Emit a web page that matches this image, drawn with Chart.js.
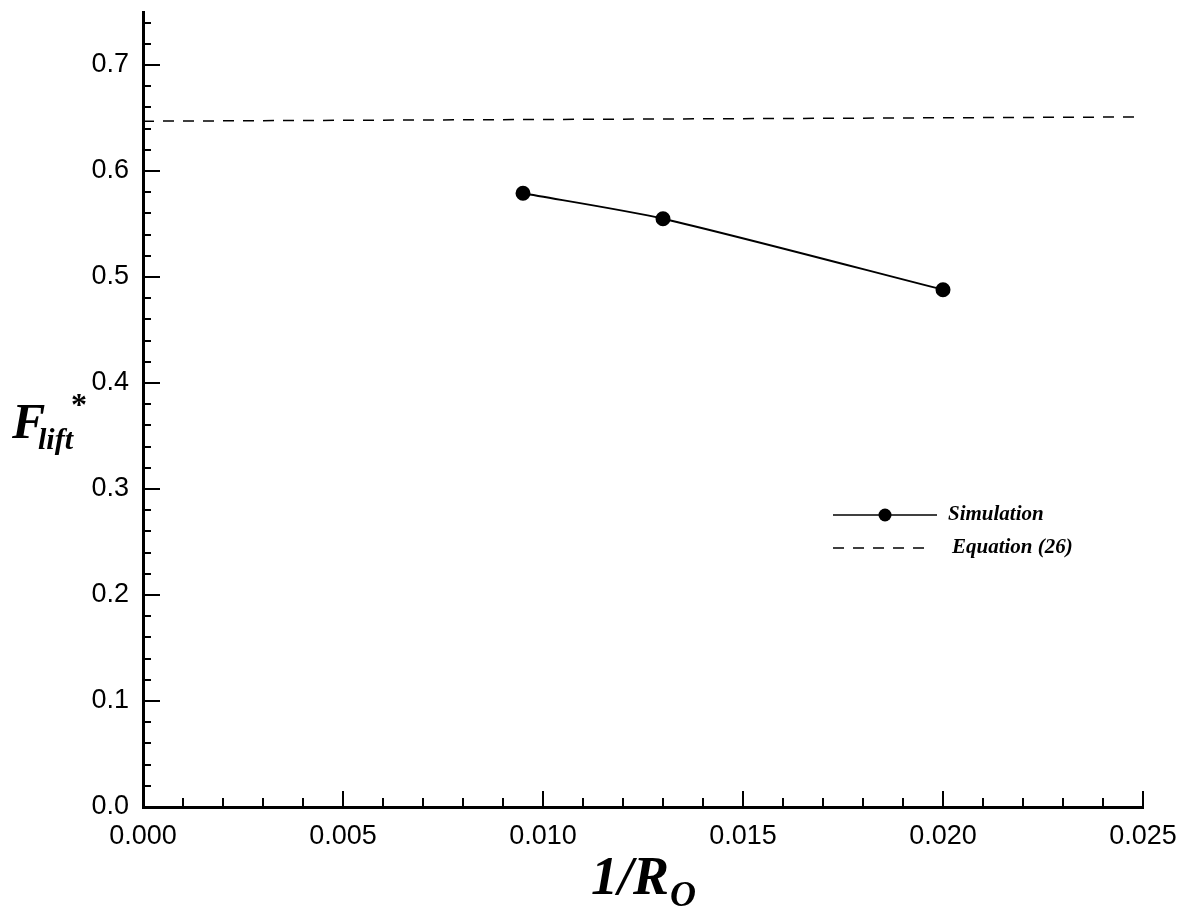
<!DOCTYPE html>
<html>
<head>
<meta charset="utf-8">
<script src="https://cdn.jsdelivr.net/npm/chart.js@4/dist/chart.umd.min.js"></script>
<style>
  body { margin: 0; background: #fff; }
  #wrap { width: 1184px; height: 910px; position: relative; }
</style>
</head>
<body>
<div id="wrap"><canvas id="myChart"></canvas></div>
<script>
// simulation points (1/Ro, F_lift*)
var simX = [0.0095, 0.013, 0.020];
var simY = [0.579, 0.555, 0.488];
// equation (26) line
var eqX = [0.0, 0.025];
var eqY = [0.647, 0.651];

var xTicks = [0.000, 0.005, 0.010, 0.015, 0.020, 0.025];
var yTicks = [0.0, 0.1, 0.2, 0.3, 0.4, 0.5, 0.6, 0.7];
var xMinorStep = 0.001;
var yMinorStep = 0.02;

var seriesLabels = ["Simulation", "Equation (26)"];

function toPoints(xs, ys) {
  return xs.map((x, i) => ({ x: x, y: ys[i] }));
}

// ticks are drawn inside the plot, so do it by hand
var insideTicks = {
  id: 'insideTicks',
  afterDraw(chart) {
    const ctx = chart.ctx;
    const xs = chart.scales.x, ys = chart.scales.y;
    const area = chart.chartArea;
    ctx.save();
    ctx.strokeStyle = '#000';
    ctx.lineWidth = 2;
    // x ticks
    for (let v = xs.min; v <= xs.max + 1e-9; v += xMinorStep) {
      const r = Math.round(v / xMinorStep);
      const major = r % 5 === 0;
      const px = Math.round(xs.getPixelForValue(r * xMinorStep));
      ctx.beginPath();
      ctx.moveTo(px, area.bottom);
      ctx.lineTo(px, area.bottom - (major ? 16 : 9));
      ctx.stroke();
    }
    // y ticks
    for (let v = ys.min; v <= ys.max + 1e-9; v += yMinorStep) {
      const r = Math.round(v / yMinorStep);
      const major = r % 5 === 0;
      const py = Math.round(ys.getPixelForValue(r * yMinorStep));
      ctx.beginPath();
      ctx.moveTo(area.left, py);
      ctx.lineTo(area.left + (major ? 17 : 8), py);
      ctx.stroke();
    }
    ctx.restore();
  }
};

// axis titles with sub/superscripts
var axisTitles = {
  id: 'axisTitles',
  afterDraw(chart) {
    const ctx = chart.ctx;
    const area = chart.chartArea;
    ctx.save();
    ctx.fillStyle = '#000';
    ctx.textBaseline = 'alphabetic';
    // x title: 1/R_O
    ctx.font = 'italic bold 54px "Liberation Serif"';
    const main = '1/R';
    const wMain = ctx.measureText(main).width;
    ctx.font = 'italic bold 36px "Liberation Serif"';
    const wSub = ctx.measureText('O').width;
    const cx = (area.left + area.right) / 2;
    let x0 = cx - (wMain + wSub) / 2;
    ctx.font = 'italic bold 54px "Liberation Serif"';
    ctx.fillText(main, x0, 894);
    ctx.font = 'italic bold 36px "Liberation Serif"';
    ctx.fillText('O', x0 + wMain + 1, 906);
    // y title: F_lift^*
    ctx.font = 'italic bold 50px "Liberation Serif"';
    ctx.fillText('F', 12, 438);
    ctx.font = 'italic bold 30px "Liberation Serif"';
    ctx.fillText('lift', 38, 449);
    ctx.font = 'bold 32px "Liberation Serif"';
    ctx.fillText('*', 71, 415);
    ctx.restore();
  }
};

// legend box inside plot
var plotLegend = {
  id: 'plotLegend',
  afterDraw(chart) {
    const ctx = chart.ctx;
    const sets = chart.data.datasets;
    ctx.save();
    ctx.fillStyle = '#000';
    ctx.strokeStyle = '#000';
    ctx.font = 'italic bold 21px "Liberation Serif"';
    ctx.textBaseline = 'middle';
    // simulation entry
    ctx.lineWidth = 1.5;
    ctx.beginPath();
    ctx.moveTo(833, 515);
    ctx.lineTo(937, 515);
    ctx.stroke();
    ctx.beginPath();
    ctx.arc(885, 515, 6.5, 0, Math.PI * 2);
    ctx.fill();
    ctx.fillText(sets[0].label, 948, 515);
    // equation entry
    ctx.setLineDash([11, 9]);
    ctx.beginPath();
    ctx.moveTo(833, 548);
    ctx.lineTo(930, 548);
    ctx.stroke();
    ctx.setLineDash([]);
    ctx.fillText(sets[1].label, 952, 548);
    ctx.restore();
  }
};

function noPad(s) {
  s.paddingTop = 0; s.paddingBottom = 0;
  s.paddingLeft = 0; s.paddingRight = 0;
}

new Chart(document.getElementById('myChart'), {
  type: 'scatter',
  data: {
    datasets: [
      {
        label: seriesLabels[0],
        data: toPoints(simX, simY),
        showLine: true,
        tension: 0.25,
        borderColor: '#000',
        backgroundColor: '#000',
        borderWidth: 2,
        pointRadius: 6.5,
        pointHoverRadius: 6.5
      },
      {
        label: seriesLabels[1],
        data: toPoints(eqX, eqY),
        showLine: true,
        borderColor: '#000',
        borderWidth: 1.5,
        borderDash: [11, 9],
        pointRadius: 0
      }
    ]
  },
  options: {
    responsive: true,
    maintainAspectRatio: false,
    animation: false,
    layout: { padding: { top: 12, right: 41, left: 0, bottom: 0 } },
    plugins: {
      legend: { display: false },
      tooltip: { enabled: false }
    },
    scales: {
      x: {
        type: 'linear',
        min: 0,
        max: 0.025,
        afterBuildTicks: s => { s.ticks = xTicks.map(v => ({ value: v })); },
        afterFit: s => { s.height = 103; noPad(s); },
        grid: { display: false, drawTicks: false },
        border: { display: true, color: '#000', width: 3 },
        ticks: {
          color: '#000',
          padding: 13,
          maxRotation: 0,
          font: { family: '"Liberation Sans"', size: 27 },
          callback: v => v.toFixed(3)
        }
      },
      y: {
        type: 'linear',
        min: 0,
        max: 0.75,
        afterBuildTicks: s => { s.ticks = yTicks.map(v => ({ value: v })); },
        afterFit: s => { s.width = 143; noPad(s); },
        grid: { display: false, drawTicks: false },
        border: { display: true, color: '#000', width: 3 },
        ticks: {
          color: '#000',
          padding: 14,
          font: { family: '"Liberation Sans"', size: 27 },
          callback: v => v.toFixed(1)
        }
      }
    }
  },
  plugins: [insideTicks, axisTitles, plotLegend]
});
</script>
</body>
</html>
